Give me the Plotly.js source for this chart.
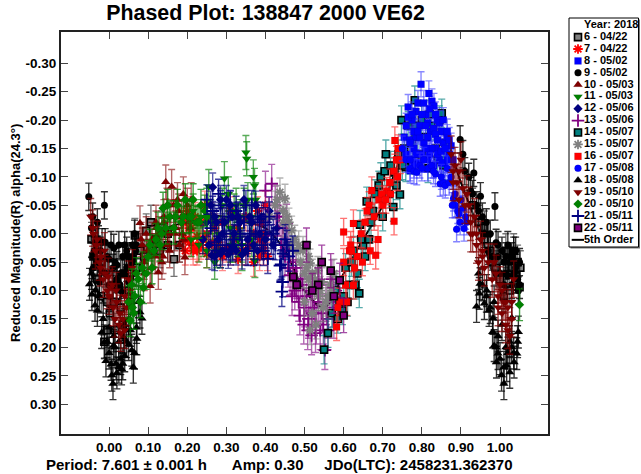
<!DOCTYPE html>
<html><head><meta charset="utf-8">
<script src="https://cdn.plot.ly/plotly-3.0.1.min.js"></script>
<style>html,body{margin:0;padding:0;background:#fff}</style></head>
<body><div id="chart" style="width:641px;height:474px"></div>
<script>
const xTickVals=[0,0.1,0.2,0.3,0.4,0.5,0.6,0.7,0.8,0.9,1.0];
const xTickText=["0.00","0.10","0.20","0.30","0.40","0.50","0.60","0.70","0.80","0.90","1.00"];
const yTickVals=[-0.3,-0.25,-0.2,-0.15,-0.1,-0.05,0,0.05,0.1,0.15,0.2,0.25,0.3];
const yTickText=["-0.30","-0.25","-0.20","-0.15","-0.10","-0.05","0.00","0.05","0.10","0.15","0.20","0.25","0.30"];
const sessionNames=["6 - 04/22","7 - 04/22","8 - 05/02","9 - 05/02","10 - 05/03","11 - 05/03","12 - 05/06","13 - 05/06","14 - 05/07","15 - 05/07","16 - 05/07","17 - 05/08","18 - 05/08","19 - 05/10","20 - 05/10","21 - 05/11","22 - 05/11"];

const fitX=[-0.05,0,0.05,0.1,0.15,0.2,0.25,0.3,0.35,0.4,0.45,0.5,0.55,0.6,0.65,0.7,0.75,0.8,0.85,0.9,0.95,1,1.05];
const fitY=[0.06,0.13,0.09,0.03,-0.01,-0.02,-0.03,-0.03,-0.02,-0.01,0.03,0.1,0.13,0.07,0.01,-0.05,-0.14,-0.19,-0.18,-0.09,0,0.09,0.1];

const x6=[-0.04,-0.03,-0.02,-0.012,-0.005,0.002,0.01,0.02,0.03,0.04,0.05,0.06,0.066,0.08,0.095,0.107,0.12,0.135,0.15,0.166,0.18,0.93,0.945,0.96,0.975,0.99,1.0,1.015,1.03,1.04,1.05,1.052,
 -0.045,-0.02,-0.005,0.015,0.035,0.055,0.07,0.09,0.11,0.13,0.15,0.96,0.98,1.01,1.025,1.035,1.045];
const y6=[0.04,0.08,0.11,0.19,0.17,0.14,0.12,0.09,0.13,0.07,0.1,0.05,0.003,0.03,-0.005,-0.02,0.01,-0.01,0.02,0.045,0.02,-0.05,-0.02,0.01,0.03,0.06,0.08,0.03,0.06,0.075,0.094,0.06,
 0.01,0.05,0.12,0.17,0.16,0.12,0.06,0.04,0.03,0.03,0,-0.01,0.05,0.11,0.1,0.03,0.05];

const x7=[0.19,0.195,0.2,0.205,0.21,0.215,0.22,0.225,0.228,0.235,0.24,0.245,0.25,0.255,0.26,0.265,0.27,0.28,0.29,0.3,0.31,0.32,0.33,0.34,0.35,0.36,0.37,0.38,0.385,0.39,0.395,0.4,
 0.195,0.205,0.215,0.225,0.235,0.25,0.275,0.29,0.31,0.33,0.35,0.37,0.385,0.395,0.4,0.405];
const y7=[-0.02,0.01,-0.04,0.015,-0.01,0.02,-0.03,0.005,0.024,-0.02,0.01,-0.05,0,0.02,-0.03,0.015,-0.01,0.02,-0.02,0.025,-0.04,0.01,-0.01,0.03,-0.03,0.02,0,-0.04,0.01,-0.02,0.02,-0.05,
 0.03,-0.01,0.03,0.03,0.02,0.035,0.03,0.04,0.03,0.045,0.03,0.05,0.04,0.03,0,0.04];

const x8=[0.755,0.76,0.765,0.77,0.775,0.78,0.785,0.79,0.795,0.798,0.805,0.81,0.815,0.818,0.822,0.826,0.831,0.835,0.84,0.845,0.85,0.855,0.859,0.865,0.87,0.875,0.88,0.77,0.785,0.8,0.815,0.83,
 0.76,0.765,0.77,0.775,0.78,0.785,0.79,0.795,0.8,0.805,0.81,0.815,0.82,0.825,0.83,0.835,0.84,0.845,0.85,0.855,0.86,0.865,0.87,0.775,0.79,0.805,0.82,0.835,0.85,0.865,0.78,0.81,0.84];
const y8=[-0.17,-0.19,-0.223,-0.111,-0.2,-0.15,-0.215,-0.125,-0.19,-0.263,-0.16,-0.21,-0.13,-0.247,-0.18,-0.233,-0.225,-0.15,-0.2,-0.13,-0.18,-0.16,-0.124,-0.17,-0.14,-0.155,-0.13,-0.165,-0.17,-0.14,-0.195,-0.12,
 -0.14,-0.205,-0.16,-0.13,-0.18,-0.14,-0.23,-0.17,-0.21,-0.13,-0.19,-0.17,-0.22,-0.15,-0.185,-0.21,-0.14,-0.195,-0.145,-0.2,-0.15,-0.13,-0.165,-0.21,-0.18,-0.23,-0.14,-0.175,-0.125,-0.18,-0.12,-0.15,-0.165];

const x9=[-0.052,-0.045,-0.042,-0.038,-0.035,-0.03,-0.027,-0.022,-0.018,-0.012,-0.01,-0.005,0,0.005,0.01,0.015,0.02,0.025,0.03,0.035,0.04,0.045,0.05,0.055,0.06,0.065,0.07,0.898,0.905,0.92,0.933,0.93,0.94,0.95,0.955,0.965,0.975,0.987,0.99,0.995,1.005,1.01,1.015,1.02,1.025,1.03,1.035,1.04,1.045,1.047,
 -0.04,-0.03,-0.02,-0.01,0,0.01,0.02,0.03,0.04,0.05,0.06,0.012,0.028,0.045,0.06,-0.025,-0.04,0.068,0.91,0.925,0.945,0.96,0.97,0.98,1.0,1.01,1.02,1.03,1.04,1.05,1.05,1.035,1.015,0.995];
const y9=[-0.065,-0.01,-0.03,0.03,0.015,-0.02,0.01,0.03,0.015,-0.05,0.015,0.04,0.045,0.02,0.06,0.05,0.055,0.02,0.07,0.04,0.02,0.06,0.04,0.08,0.05,0,0.02,-0.166,-0.14,-0.1,-0.107,-0.07,-0.05,-0.066,-0.03,-0.02,0,-0.048,0.016,0.04,0.03,0.05,0.07,0.02,0.05,0.04,0.07,0.06,0.08,0.1,
 0.04,0.05,0.065,0.07,0.09,0.09,0.08,0.1,0.07,0.085,0.04,0.025,0.09,0.03,0.02,0.085,0.06,0.03,-0.11,-0.075,-0.04,0,0.03,0.04,0.07,0.09,0.075,0.09,0.03,0.05,0.09,0.03,0.04,0.02];

const x10=[0.079,0.085,0.09,0.095,0.1,0.105,0.11,0.115,0.12,0.126,0.13,0.135,0.14,0.145,0.15,0.155,0.16,0.165,0.17,0.175,0.18,0.185,0.19,0.194,0.2,0.205,0.21,
 0.082,0.09,0.098,0.108,0.118,0.128,0.138,0.148,0.158,0.168,0.178,0.188,0.198,0.208,0.15,0.17,0.19,0.12,0.14];
const y10=[-0.019,0.02,0.05,0,0.04,0.092,0.01,0.03,-0.02,0.068,0.02,0.05,-0.03,-0.091,0,0.03,-0.083,-0.05,-0.01,-0.06,0.02,-0.03,-0.07,0.042,-0.05,-0.02,-0.06,
 0.01,0.07,0.03,0.06,0.04,0,0.04,-0.05,-0.03,0,-0.04,0,-0.03,-0.01,0.02,-0.03,0.01,-0.01,-0.02];

const x11=[0.2,0.21,0.22,0.23,0.24,0.25,0.255,0.26,0.27,0.28,0.295,0.3,0.31,0.32,0.33,0.34,0.345,0.35,0.352,0.36,0.365,0.369,0.372,0.373,0.375,
 0.215,0.235,0.25,0.265,0.275,0.29,0.305,0.315,0.325,0.335,0.34,0.355,0.365,0.285,0.31,0.33];
const y11=[-0.03,0.01,-0.02,0.02,0.01,-0.05,-0.083,-0.03,0.05,0,-0.097,-0.02,0.02,-0.04,0.01,0.035,-0.05,-0.143,-0.132,-0.02,0.01,-0.1,-0.085,0.047,-0.06,
 -0.04,-0.03,0.03,-0.02,0.03,-0.05,-0.07,0.02,-0.05,-0.03,0.02,-0.06,-0.03,0.03,-0.01,0.01];

const x12=[0.24,0.25,0.255,0.263,0.265,0.27,0.28,0.285,0.29,0.295,0.305,0.31,0.317,0.32,0.33,0.34,0.345,0.355,0.36,0.37,0.375,0.385,0.39,0.4,0.41,0.42,0.43,
 0.26,0.27,0.275,0.285,0.29,0.3,0.31,0.315,0.325,0.335,0.35,0.365,0.38,0.395,0.405];
const y12=[0.01,-0.02,0.02,0.038,-0.082,-0.03,0.01,-0.06,0.03,-0.02,0.036,-0.05,0.023,0,-0.03,0.037,-0.06,0.01,-0.03,0.02,-0.05,0,-0.03,0.01,-0.04,0.02,-0.01,
 -0.05,0.04,-0.02,0.035,0,-0.06,0.03,-0.03,0.03,-0.02,0.03,-0.02,0.03,-0.03,0];

const x13=[0.4,0.408,0.416,0.425,0.435,0.445,0.454,0.46,0.463,0.47,0.475,0.48,0.485,0.488,0.495,0.5,0.505,0.51,0.515,0.518,0.525,0.53,0.535,0.54,0.545,0.552,0.558,0.565,0.572,
 0.43,0.44,0.45,0.458,0.468,0.478,0.49,0.498,0.508,0.52,0.528,0.538,0.548,0.555,0.56,0.57,0.575,0.58,0.585];
const y13=[-0.076,-0.03,-0.088,-0.05,-0.03,-0.01,-0.018,0.03,0.073,0.05,0.1,0.08,0.12,0.144,0.09,0.13,0.11,0.15,0.1,0.179,0.13,0.16,0.12,0.17,0.14,0.205,0.15,0.11,0.13,
 -0.03,0.02,0.04,0.06,0.11,0.06,0.08,0.16,0.17,0.14,0.175,0.09,0.16,0.12,0.17,0.08,0.15,0.1,0.12];

const x14=[0.55,0.56,0.57,0.58,0.59,0.597,0.605,0.615,0.625,0.635,0.64,0.642,0.65,0.659,0.665,0.675,0.69,0.7,0.708,0.715,0.727,0.73,0.735,0.744,0.748,0.755,0.759,0.765,0.775,0.782,0.79,0.8,0.81,0.816,0.825,0.835,0.845,0.851,0.86,
 0.585,0.6,0.61,0.62,0.63,0.645,0.655,0.67,0.68,0.695,0.705,0.72,0.74,0.75,0.77,0.785,0.8,0.82,0.84,0.855];
const y14=[0.204,0.175,0.14,0.1,0.12,0.135,0.06,0.09,0.03,0.07,0.105,-0.016,0.02,-0.057,0.01,-0.04,-0.085,-0.03,-0.14,-0.07,-0.047,-0.108,-0.085,-0.069,-0.2,-0.15,-0.117,-0.19,-0.16,-0.235,-0.14,-0.2,-0.17,-0.115,-0.19,-0.15,-0.2,-0.212,-0.16,
 0.15,0.11,0.12,0.05,0.09,0.01,0.04,-0.02,-0.07,-0.1,-0.11,-0.12,-0.14,-0.12,-0.13,-0.19,-0.14,-0.21,-0.13,-0.12];

const x15=[0.41,0.425,0.437,0.45,0.445,0.46,0.467,0.475,0.485,0.496,0.505,0.51,0.514,0.52,0.527,0.534,0.54,0.547,0.514,0.53,0.555,0.565,0.575,
 0.43,0.445,0.455,0.465,0.48,0.49,0.5,0.51,0.52,0.535,0.545,0.56,0.57,0.5,0.52];
const y15=[-0.03,-0.05,-0.073,-0.062,-0.02,-0.02,-0.006,0.01,0.02,0.03,0.06,0.04,0.052,0.09,0.08,0.065,0.1,0.13,0.17,0.16,0.12,0.09,0.07,
 -0.06,-0.04,-0.03,0.02,0.03,0.05,0.07,0.08,0.07,0.11,0.085,0.11,0.1,0.12,0.14];

const x16=[0.582,0.59,0.6,0.605,0.615,0.625,0.625,0.635,0.645,0.655,0.665,0.672,0.682,0.69,0.7,0.71,0.72,0.729,0.731,0.735,0.74,
 0.585,0.6,0.608,0.618,0.628,0.648,0.668,0.678,0.688,0.698,0.708,0.718,0.728,0.738,0.745,0.66,0.62];
const y16=[0.164,0.12,-0.003,0.09,0.03,-0.018,0.091,0.04,0,-0.02,-0.05,-0.076,0.038,-0.06,-0.05,-0.075,-0.07,-0.022,-0.164,-0.13,-0.15,
 0.13,0.05,0.12,0.02,0.06,0.05,0.03,-0.03,0.01,-0.07,-0.06,-0.09,-0.11,-0.1,-0.13,-0.04,0.03];

const x17=[0.76,0.77,0.78,0.787,0.795,0.805,0.815,0.825,0.835,0.847,0.855,0.865,0.875,0.881,0.885,0.889,0.892,0.898,0.9,0.908,0.912,
 0.77,0.8,0.83,0.85,0.86,0.87,0.878,0.885,0.895,0.905,0.915,0.75];
const y17=[-0.13,-0.115,-0.11,-0.108,-0.12,-0.13,-0.115,-0.12,-0.105,-0.088,-0.09,-0.115,-0.1,-0.062,-0.05,-0.008,-0.04,-0.02,-0.06,-0.009,-0.03,
 -0.13,-0.115,-0.11,-0.1,-0.085,-0.09,-0.05,-0.07,-0.035,-0.045,-0.02,-0.15];

const x18=[-0.05,-0.044,-0.036,-0.03,-0.019,-0.012,-0.008,0.007,0.01,0.011,0.018,0.025,0.032,0.035,0.037,0.05,0.058,0.062,0.071,0.079,0.084,0.94,0.947,0.949,0.96,0.966,0.972,0.981,0.982,0.985,0.991,0.995,1.004,1.01,1.017,1.025,1.03,1.036,1.043,1.047,
 -0.045,-0.035,-0.025,-0.015,-0.005,0,0.005,0.015,0.02,0.03,0.04,0.045,0.055,0.065,0.07,0.075,0,0.012,0.025,0.04,0.05,0.945,0.955,0.965,0.975,0.985,0.995,1.005,1.015,1.025,1.035,1.045,0.99,1.0,1.01,1.02,1.03];
const y18=[0.089,0.107,0.126,0.135,0.174,0.191,0.224,0.249,0.264,0.197,0.229,0.235,0.238,0.229,0.182,0.195,0.205,0.235,0.185,0.138,0.149,0.128,0.105,0.088,0.123,0.1,0.135,0.173,0.149,0.197,0.226,0.211,0.249,0.264,0.232,0.244,0.148,0.226,0.211,0.173,
 0.07,0.1,0.11,0.15,0.19,0.21,0.23,0.2,0.245,0.22,0.215,0.19,0.17,0.21,0.165,0.12,0.165,0.18,0.19,0.16,0.15,0.07,0.09,0.11,0.13,0.12,0.18,0.16,0.2,0.19,0.21,0.19,0.2,0.22,0.235,0.21,0.2];

const x19=[-0.047,-0.04,-0.035,-0.03,-0.025,-0.02,-0.015,-0.01,-0.005,0,0.005,0.01,0.015,0.02,0.025,0.03,0.035,0.04,0.05,0.06,0.875,0.88,0.885,0.89,0.895,0.9,0.905,0.92,0.925,0.93,0.935,0.94,0.945,0.95,0.955,0.96,0.99,0.995,1.0,1.005,1.01,1.015,1.02,1.025,1.03,
 -0.042,-0.032,-0.022,-0.012,-0.002,0.008,0.018,0.028,0.04,0.045,0.055,0.88,0.895,0.91,0.915,0.925,0.94,0.955,0.97,0.98,0.985,0.995,1.005,1.015,1.02,1.03,1.035];
const y19=[-0.03,0,0.03,0.01,0.05,0.04,0.08,0.07,0.1,0.11,0.095,0.13,0.15,0.12,0.16,0.175,0.15,0.11,0.08,0.06,-0.14,-0.11,-0.12,-0.09,-0.06,-0.13,-0.08,-0.05,-0.02,0,-0.03,0.02,0.05,0.01,0.03,0.06,0.07,0.11,0.09,0.14,0.12,0.16,0.13,0.18,0.15,
 -0.01,0.02,0.06,0.03,0.075,0.09,0.1,0.14,0.17,0.13,0.1,-0.09,-0.11,-0.05,-0.07,0,0,0.04,0.05,0.08,0.05,0.13,0.1,0.12,0.17,0.12,0.08];

const x20=[0.05,0.054,0.06,0.066,0.075,0.088,0.1,0.11,0.12,0.13,0.138,0.145,0.155,0.165,0.175,0.185,0.195,0.205,0.215,0.225,0.235,0.245,1.05,
 0.058,0.063,0.07,0.08,0.085,0.095,0.105,0.115,0.125,0.135,0.15,0.17,0.19,0.21,0.23,0.25];
const y20=[0.12,0.153,0.13,0.11,0.08,0.095,0.04,0.06,0.01,0.02,-0.045,-0.01,-0.03,-0.01,-0.05,-0.02,-0.06,-0.03,-0.06,-0.02,-0.05,-0.04,0.125,
 0.09,0.14,0.07,0.12,0.06,0.07,0.02,0.03,-0.01,0,-0.05,-0.03,-0.03,-0.03,-0.02,-0.03];

const x21=[0.25,0.26,0.27,0.28,0.29,0.3,0.31,0.32,0.33,0.34,0.35,0.36,0.37,0.38,0.39,0.4,0.406,0.415,0.425,0.437,0.44,0.442,0.444,0.445,0.455,0.47,
 0.265,0.275,0.285,0.295,0.305,0.315,0.325,0.335,0.345,0.355,0.365,0.375,0.385,0.395,0.41,0.42,0.43,0.45,0.46];
const y21=[-0.06,-0.01,0.02,-0.07,-0.02,0.02,-0.05,0.01,-0.03,0.02,-0.05,0,0.03,-0.03,0.02,-0.02,0.044,0.01,0.02,0.056,0.054,0.102,0.085,0.035,0.02,0.03,
 -0.04,0.03,-0.05,0,-0.03,0.02,-0.04,0,-0.02,0.03,-0.05,0,-0.02,0.03,-0.03,0,-0.01,0.01,0.04];

const x22=[0.471,0.505,0.535,0.544,0.567,0.59,0.6,0.48,0.52,0.575];
const y22=[0.076,0.02,0.09,0.05,0.065,0.082,0.144,0.09,0.1,0.11];

const phases=[x6,x7,x8,x9,x10,x11,x12,x13,x14,x15,x16,x17,x18,x19,x20,x21,x22];
const mags=[y6,y7,y8,y9,y10,y11,y12,y13,y14,y15,y16,y17,y18,y19,y20,y21,y22];
const drawOrder=[0,1,3,4,5,6,7,8,9,10,2,11,12,13,14,15,16];
const errSizes=[0.03,0.025,0.022,0.024,0.03,0.03,0.025,0.034,0.025,0.025,0.024,0.022,0.028,0.032,0.028,0.026,0.03];
const fills=["#808080","#ff0000","#0000ff","#000000","#800000","#008000","#000080","#800080","#008080","#808080","#ff0000","#0000ff","#000000","#800000","#008000","#000080","#800080"];
const barColors=["rgba(70,70,70,.75)","rgba(255,60,60,.6)","rgba(60,60,255,.6)","rgba(0,0,0,.8)","rgba(128,0,0,.6)","rgba(0,128,0,.65)","rgba(0,0,128,.65)","rgba(128,0,128,.6)","rgba(0,128,128,.65)","rgba(128,128,128,.6)","rgba(255,40,40,.65)","rgba(50,50,255,.6)","rgba(0,0,0,.8)","rgba(128,0,0,.7)","rgba(0,128,0,.75)","rgba(0,0,128,.75)","rgba(128,0,128,.7)"];
const symbols=["square","asterisk-open","square","circle","triangle-up","triangle-down","diamond","cross-thin-open","square","asterisk-open","square","circle","triangle-up","triangle-down","diamond","cross-thin-open","square"];
const outlined=[1,0,0,0,0,0,0,0,1,0,0,0,0,0,0,0,1];
const stroked=[0,1,0,0,0,0,0,1,0,1,0,0,0,0,0,1,0];
const markerSizes=[7,8,7,7,8,8,7,9,7,8,7,7,8,8,7,9,7];

function markerFor(i){
  const lineColor=stroked[i]?fills[i]:(outlined[i]?"#000000":"rgba(0,0,0,.15)");
  const lineWidth=stroked[i]?1.8:(outlined[i]?1.6:0.5);
  return {symbol:symbols[i],size:markerSizes[i],color:fills[i],line:{color:lineColor,width:lineWidth}};
}

const traces=[{x:fitX,y:fitY,mode:"lines",line:{color:"#000",width:2,shape:"spline"},hoverinfo:"skip",showlegend:false}];
drawOrder.forEach(i=>{
  traces.push({x:phases[i],y:mags[i],name:sessionNames[i],mode:"markers",type:"scatter",
    marker:markerFor(i),
    error_y:{type:"constant",value:errSizes[i],color:barColors[i],thickness:1.4,width:3.5},
    showlegend:false,hoverinfo:"skip"});
});

// key drawn on its own small axes, one row per session
const rows=sessionNames.map((_,i)=>i+1);
const keyText={family:"Liberation Sans",size:11,color:"#000"};
phases.forEach((_,i)=>{
  traces.push({x:[0.9],y:[rows[i]],xaxis:"x2",yaxis:"y2",mode:"markers",marker:markerFor(i),showlegend:false,hoverinfo:"skip"});
});
traces.push({x:rows.map(()=>1.5),y:rows,xaxis:"x2",yaxis:"y2",mode:"text",text:sessionNames.map(t=>"<b>"+t+"</b>"),textposition:"middle right",textfont:keyText,showlegend:false,hoverinfo:"skip"});
traces.push({x:[1.5],y:[0],xaxis:"x2",yaxis:"y2",mode:"text",text:["<b>Year: 2018</b>"],textposition:"middle right",textfont:keyText,showlegend:false,hoverinfo:"skip"});
traces.push({x:[0.27,1.5],y:[18,18],xaxis:"x2",yaxis:"y2",mode:"lines",line:{color:"#000",width:2},showlegend:false,hoverinfo:"skip"});
traces.push({x:[1.5],y:[18],xaxis:"x2",yaxis:"y2",mode:"text",text:["<b>5th Order</b>"],textposition:"middle right",textfont:keyText,showlegend:false,hoverinfo:"skip"});

const W=641,H=474;
const axisFont={family:"Liberation Sans",size:13.5,color:"#000"};
const nb=n=>"\u00a0".repeat(n);
const layout={
  width:W,height:H,margin:{l:0,r:0,t:0,b:0},paper_bgcolor:"#fff",plot_bgcolor:"#fff",showlegend:false,font:{family:"Liberation Sans",color:"#000"},
  title:{text:"<b>Phased Plot: 138847 2000 VE62</b>",font:{family:"Liberation Sans",size:21.4,color:"#000"},x:265.5/W,xanchor:"center",y:1-13/H,yanchor:"middle"},
  xaxis:{domain:[61/W,547.5/W],range:[-0.123,1.1215],tickmode:"array",tickvals:xTickVals,ticktext:xTickText.map(t=>"<b>"+t+"</b>"),ticks:"inside",ticklen:7,tickwidth:1,tickcolor:"#444",
    showline:true,linecolor:"#222",linewidth:2,mirror:"ticks",showgrid:false,zeroline:false,tickfont:axisFont,
    title:{text:"<b>Period: 7.601 ± 0.001 h"+nb(6)+"Amp: 0.30"+nb(5)+"JDo(LTC): 2458231.362370"+nb(12)+"</b>",font:{family:"Liberation Sans",size:15,color:"#000"},standoff:5}},
  yaxis:{domain:[1-434/H,1-31.7/H],range:[0.3525,-0.3556],tickmode:"array",tickvals:yTickVals,ticktext:yTickText.map(t=>"<b>"+t+"</b>"),ticks:"inside",ticklen:7,tickwidth:1,tickcolor:"#444",
    showline:true,linecolor:"#222",linewidth:2,mirror:"ticks",showgrid:false,zeroline:false,tickfont:axisFont,
    title:{text:nb(4)+"<b>Reduced Magnitude(R) alpha(24.3°)</b>",font:{family:"Liberation Sans",size:13,color:"#000"},standoff:2}},
  xaxis2:{domain:[569/W,639/W],range:[0,7],visible:false,fixedrange:true,anchor:"y2"},
  yaxis2:{domain:[1-247/H,1-18/H],range:[18.6,-0.6],visible:false,fixedrange:true,anchor:"x2"},
  shapes:[
    {type:"rect",xref:"paper",yref:"paper",x0:570.5/W,x1:640/W,y0:1-248.5/H,y1:1-19.5/H,line:{width:0},fillcolor:"#777",layer:"below"},
    {type:"rect",xref:"paper",yref:"paper",x0:569/W,x1:638.5/W,y0:1-247/H,y1:1-18/H,line:{color:"#000",width:1},fillcolor:"#fff",layer:"below"}
  ]
};
Plotly.newPlot("chart",traces,layout,{displayModeBar:false,staticPlot:true});
</script></body></html>
